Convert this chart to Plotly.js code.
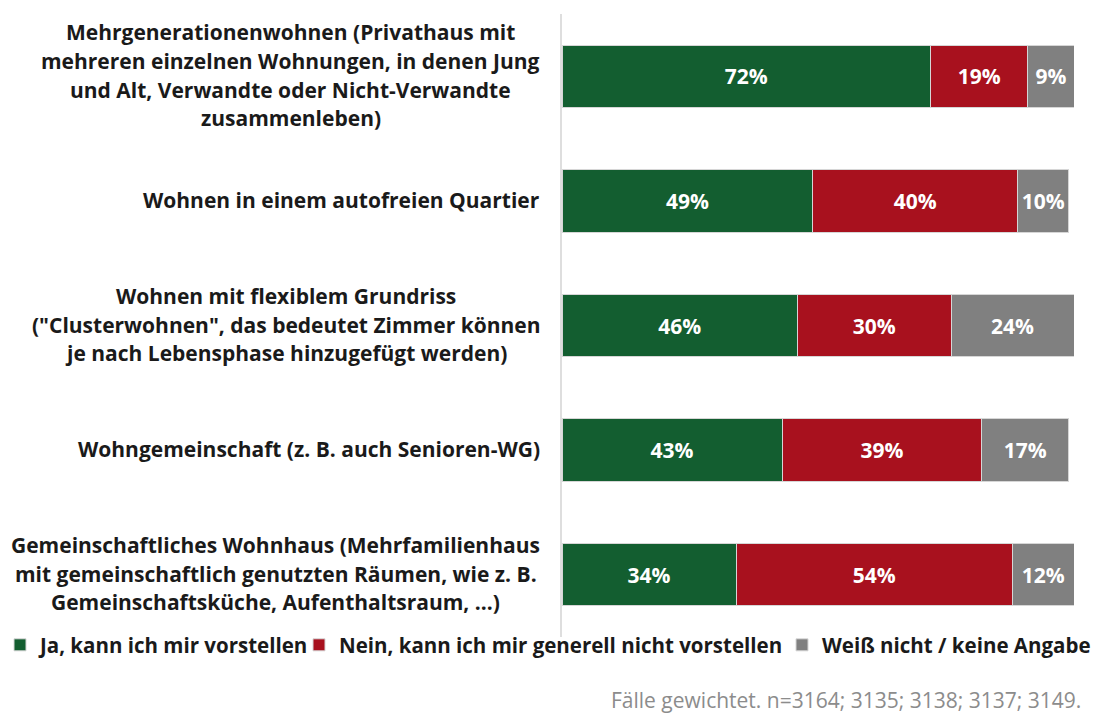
<!DOCTYPE html>
<html>
<head>
<meta charset="utf-8">
<script src="https://cdn.plot.ly/plotly-3.0.1.min.js"></script>
<style>html,body{margin:0;padding:0;background:#fff;}#chart{width:1096px;height:713px;}</style>
</head>
<body>
<div id="chart"></div>
<script>
// ---- data ----
const categories = ["Mehrgenerationenwohnen", "Autofreies Quartier", "Flexibler Grundriss", "Wohngemeinschaft", "Gemeinschaftliches Wohnhaus"];
const categoryLabelLines = [
  ["Mehrgenerationenwohnen (Privathaus mit", "mehreren einzelnen Wohnungen, in denen Jung", "und Alt, Verwandte oder Nicht-Verwandte", "zusammenleben)"],
  ["Wohnen in einem autofreien Quartier"],
  ["Wohnen mit flexiblem Grundriss", "(\"Clusterwohnen\", das bedeutet Zimmer können", "je nach Lebensphase hinzugefügt werden)"],
  ["Wohngemeinschaft (z. B. auch Senioren-WG)"],
  ["Gemeinschaftliches Wohnhaus (Mehrfamilienhaus", "mit gemeinschaftlich genutzten Räumen, wie z. B.", "Gemeinschaftsküche, Aufenthaltsraum, ...)"]
];
const seriesNames = ["Ja, kann ich mir vorstellen", "Nein, kann ich mir generell nicht vorstellen", "Weiß nicht / keine Angabe"];
const valuesJa = [72, 49, 46, 43, 34];
const valuesNein = [19, 40, 30, 39, 54];
const valuesWeiss = [9, 10, 24, 17, 12];
const footnote = "Fälle gewichtet. n=3164; 3135; 3138; 3137; 3149.";

// ---- styles ----
const colors = ["#135e30", "#a8111e", "#808080"];
const FONT = "Open Sans, sans-serif";
const LABEL_SIZE = 21;
const LINE_STEP = 28.7;
const LABEL_GAP = 22;
const legendIds = ["legend", "legend2", "legend3"];
const legendX = [0, 299 / 1096, 782 / 1096];

const seriesValues = [valuesJa, valuesNein, valuesWeiss];
const data = seriesValues.map((vals, i) => ({
  type: "bar",
  orientation: "h",
  name: seriesNames[i],
  legend: legendIds[i],
  y: categories,
  x: vals,
  marker: {color: colors[i], line: {color: "#d6d6d6", width: 1}},
  texttemplate: "<b>%{x}%</b>",
  textposition: "inside",
  insidetextanchor: "middle",
  textfont: {family: FONT, size: 21, color: "#ffffff"},
  hoverinfo: "skip"
}));

const annotations = [];
const blockOf = [];
categoryLabelLines.forEach((lines, ci) => {
  const n = lines.length;
  lines.forEach((ln, li) => {
    annotations.push({
      text: "<b>" + ln + "</b>",
      xref: "paper", yref: "y",
      x: 0, y: categories[ci],
      xanchor: "right", yanchor: "middle",
      xshift: -LABEL_GAP,
      yshift: 1 - (li - (n - 1) / 2) * LINE_STEP,
      showarrow: false,
      font: {family: FONT, size: LABEL_SIZE, color: "#1a1a1a"}
    });
    blockOf.push(ci);
  });
});
annotations.push({
  text: footnote,
  xref: "paper", yref: "paper",
  x: 1, y: 0, xanchor: "right", yanchor: "middle",
  xshift: 9, yshift: -63,
  showarrow: false,
  font: {family: FONT, size: 21, color: "#8c8c8c"}
});

const layout = {
  width: 1096, height: 713,
  margin: {l: 562, r: 22, t: 14, b: 76, autoexpand: false},
  paper_bgcolor: "#ffffff", plot_bgcolor: "#ffffff",
  barmode: "stack",
  bargap: 0.5,
  showlegend: true,
  xaxis: {range: [0, 100], showgrid: false, zeroline: false, showticklabels: false, showline: false, fixedrange: true},
  yaxis: {type: "category", categoryarray: categories, autorange: "reversed", showticklabels: false, showgrid: false,
          zeroline: false, showline: true, linecolor: "#dedede", linewidth: 2, ticks: "", fixedrange: true},
  uniformtext: {mode: "show", minsize: 21},
  annotations: annotations,
  font: {family: FONT}
};
legendIds.forEach((id, i) => {
  layout[id] = {
    orientation: "h", xref: "container", yref: "container",
    x: legendX[i], y: 1 - 645 / 713, xanchor: "left", yanchor: "middle",
    bgcolor: "rgba(0,0,0,0)",
    font: {family: FONT, size: 20.5, color: "#1a1a1a", weight: "bold"},
    itemclick: false, itemdoubleclick: false
  };
});

const gd = document.getElementById("chart");
Plotly.newPlot(gd, data, layout, {displayModeBar: false, staticPlot: true}).then(() => {
  // center each line within its right-aligned label block
  const widths = [];
  for (let i = 0; i < blockOf.length; i++) {
    const t = gd.querySelector('.annotation[data-index="' + i + '"] .annotation-text');
    widths.push(t ? t.getBBox().width : 0);
  }
  const blockMax = {};
  blockOf.forEach((b, i) => { blockMax[b] = Math.max(blockMax[b] || 0, widths[i]); });
  const upd = {};
  blockOf.forEach((b, i) => {
    upd["annotations[" + i + "].xanchor"] = "center";
    upd["annotations[" + i + "].xshift"] = -LABEL_GAP - blockMax[b] / 2;
  });
  return Plotly.relayout(gd, upd);
});
</script>
</body>
</html>
